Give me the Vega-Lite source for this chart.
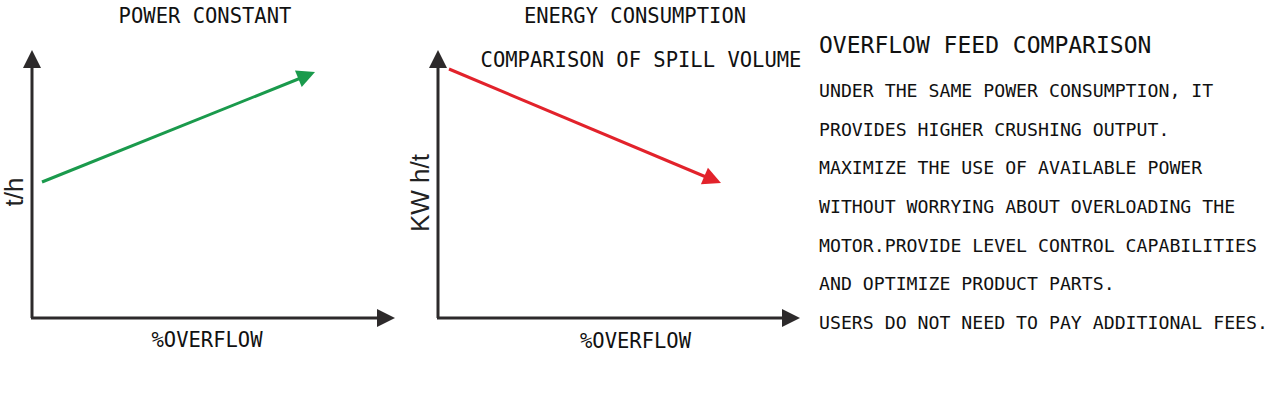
{
  "$schema": "https://vega.github.io/schema/vega-lite/v6.json",
  "width": 1270,
  "height": 395,
  "autosize": {"type": "fit", "contains": "padding"},
  "padding": 0,
  "background": "white",
  "config": {"view": {"stroke": null}, "axis": {"disable": true}},
  "datasets": {
    "segments": [
      {"part": "axis", "x": 32, "y": 318, "x2": 32, "y2": 62},
      {"part": "axis", "x": 31, "y": 318, "x2": 380, "y2": 318},
      {"part": "axis", "x": 438, "y": 318, "x2": 438, "y2": 62},
      {"part": "axis", "x": 437, "y": 318, "x2": 786, "y2": 318},
      {"part": "up", "x": 42, "y": 182, "x2": 307, "y2": 75.5},
      {"part": "down", "x": 449, "y": 69, "x2": 712, "y2": 179.5}
    ],
    "heads": [
      {"part": "axis", "x": 32, "y": 59, "angle": 0},
      {"part": "axis", "x": 386, "y": 318, "angle": 90},
      {"part": "axis", "x": 438, "y": 59, "angle": 0},
      {"part": "axis", "x": 791, "y": 318, "angle": 90},
      {"part": "up", "x": 306.7, "y": 75.4, "angle": 68},
      {"part": "down", "x": 712.7, "y": 179.5, "angle": 113}
    ],
    "captions": [
      {"x": 205, "y": 17, "label": "POWER CONSTANT"},
      {"x": 635, "y": 17, "label": "ENERGY CONSUMPTION"},
      {"x": 641, "y": 61, "label": "COMPARISON OF SPILL VOLUME"},
      {"x": 207, "y": 341, "label": "%OVERFLOW"},
      {"x": 635.5, "y": 342, "label": "%OVERFLOW"}
    ],
    "units": [
      {"x": 15, "y": 192, "label": "t/h"},
      {"x": 421, "y": 193, "label": "KW h/t"}
    ],
    "heading": [
      {"x": 819, "y": 46, "label": "OVERFLOW FEED COMPARISON"}
    ],
    "body": [
      {"x": 819, "y": 92, "label": "UNDER THE SAME POWER CONSUMPTION, IT"},
      {"x": 819, "y": 130.5, "label": "PROVIDES HIGHER CRUSHING OUTPUT."},
      {"x": 819, "y": 169, "label": "MAXIMIZE THE USE OF AVAILABLE POWER"},
      {"x": 819, "y": 208, "label": "WITHOUT WORRYING ABOUT OVERLOADING THE"},
      {"x": 819, "y": 246.5, "label": "MOTOR.PROVIDE LEVEL CONTROL CAPABILITIES"},
      {"x": 819, "y": 285, "label": "AND OPTIMIZE PRODUCT PARTS."},
      {"x": 819, "y": 324, "label": "USERS DO NOT NEED TO PAY ADDITIONAL FEES."}
    ]
  },
  "layer": [
    {
      "data": {"name": "segments"},
      "mark": {"type": "rule", "strokeWidth": 3, "strokeCap": "butt"},
      "encoding": {
        "x": {"field": "x", "type": "quantitative", "scale": {"domain": [0, 1270], "nice": false, "zero": false}},
        "y": {"field": "y", "type": "quantitative", "scale": {"domain": [0, 395], "nice": false, "zero": false, "reverse": true}},
        "x2": {"field": "x2"},
        "y2": {"field": "y2"},
        "color": {"field": "part", "type": "nominal", "legend": null,
          "scale": {"domain": ["axis", "up", "down"], "range": ["#2d2a2b", "#1a9a4c", "#e2222b"]}}
      }
    },
    {
      "data": {"name": "heads"},
      "mark": {"type": "point", "shape": "M0,-1L-1,1L1,1Z", "filled": true, "opacity": 1, "size": 324},
      "encoding": {
        "x": {"field": "x", "type": "quantitative"},
        "y": {"field": "y", "type": "quantitative"},
        "angle": {"field": "angle", "type": "quantitative", "scale": null},
        "color": {"field": "part", "type": "nominal", "legend": null}
      }
    },
    {
      "data": {"name": "captions"},
      "mark": {"type": "text", "font": "DejaVu Sans Mono", "fontSize": 20.5, "align": "center", "baseline": "middle", "color": "#111"},
      "encoding": {
        "x": {"field": "x", "type": "quantitative"},
        "y": {"field": "y", "type": "quantitative"},
        "text": {"field": "label"}
      }
    },
    {
      "data": {"name": "units"},
      "mark": {"type": "text", "font": "Liberation Sans", "fontSize": 26, "align": "center", "baseline": "middle", "angle": 270, "color": "#222"},
      "encoding": {
        "x": {"field": "x", "type": "quantitative"},
        "y": {"field": "y", "type": "quantitative"},
        "text": {"field": "label"}
      }
    },
    {
      "data": {"name": "heading"},
      "mark": {"type": "text", "font": "DejaVu Sans Mono", "fontSize": 23, "align": "left", "baseline": "middle", "color": "#111"},
      "encoding": {
        "x": {"field": "x", "type": "quantitative"},
        "y": {"field": "y", "type": "quantitative"},
        "text": {"field": "label"}
      }
    },
    {
      "data": {"name": "body"},
      "mark": {"type": "text", "font": "DejaVu Sans Mono", "fontSize": 18.2, "align": "left", "baseline": "middle", "color": "#111"},
      "encoding": {
        "x": {"field": "x", "type": "quantitative"},
        "y": {"field": "y", "type": "quantitative"},
        "text": {"field": "label"}
      }
    }
  ]
}
